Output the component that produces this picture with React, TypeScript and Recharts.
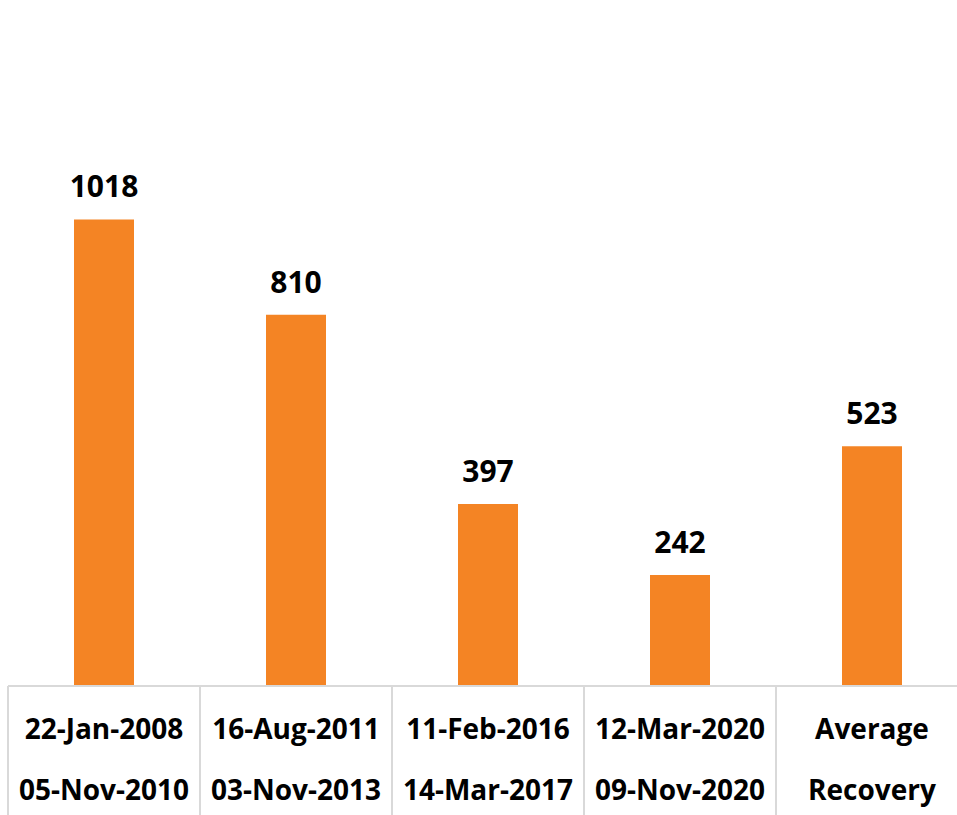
import { BarChart, Bar, XAxis, YAxis, LabelList } from 'recharts'

const startDates = ['22-Jan-2008', '16-Aug-2011', '11-Feb-2016', '12-Mar-2020', 'Average']
const endDates = ['05-Nov-2010', '03-Nov-2013', '14-Mar-2017', '09-Nov-2020', 'Recovery']
const recoveryDays = [1018, 810, 397, 242, 523]

const data = startDates.map((start, i) => ({
  name: start,
  end: endDates[i],
  days: recoveryDays[i],
}))

const FONT = '"Open Sans", sans-serif'
const ORANGE = '#F48424'
const GRID = '#d9d9d9'
const AXIS_Y = 686
const BAND = 192

function CategoryTick(props: any) {
  const { x, payload } = props
  const i = payload.index
  return (
    <g>
      <line x1={x - BAND / 2} x2={x - BAND / 2} y1={AXIS_Y} y2={815} stroke={GRID} strokeWidth={2} />
      <text x={x} y={AXIS_Y + 53} textAnchor="middle" fontFamily={FONT} fontWeight={700} fontSize={28} fill="#000">
        {startDates[i]}
      </text>
      <text x={x} y={AXIS_Y + 114} textAnchor="middle" fontFamily={FONT} fontWeight={700} fontSize={28} fill="#000">
        {endDates[i]}
      </text>
    </g>
  )
}

function ValueLabel(props: any) {
  const { x, y, width, value } = props
  return (
    <text x={x + width / 2} y={y - 22} textAnchor="middle" fontFamily={FONT} fontWeight={700} fontSize={30} fill="#000">
      {value}
    </text>
  )
}

export default function App() {
  return (
    <div style={{ position: 'fixed', left: 0, top: 0, width: 957, height: 815, overflow: 'hidden', background: '#fff' }}>
      <BarChart
        width={968}
        height={815}
        data={data}
        margin={{ top: 136, right: 0, bottom: 0, left: 8 }}
        barCategoryGap={0}
      >
        <YAxis hide domain={[0, 1200]} />
        <XAxis
          dataKey="name"
          height={129}
          axisLine={{ stroke: GRID, strokeWidth: 2 }}
          tickLine={false}
          interval={0}
          tick={<CategoryTick />}
        />
        <Bar dataKey="days" fill={ORANGE} barSize={60} isAnimationActive={false}>
          <LabelList dataKey="days" content={<ValueLabel />} />
        </Bar>
      </BarChart>
    </div>
  )
}
